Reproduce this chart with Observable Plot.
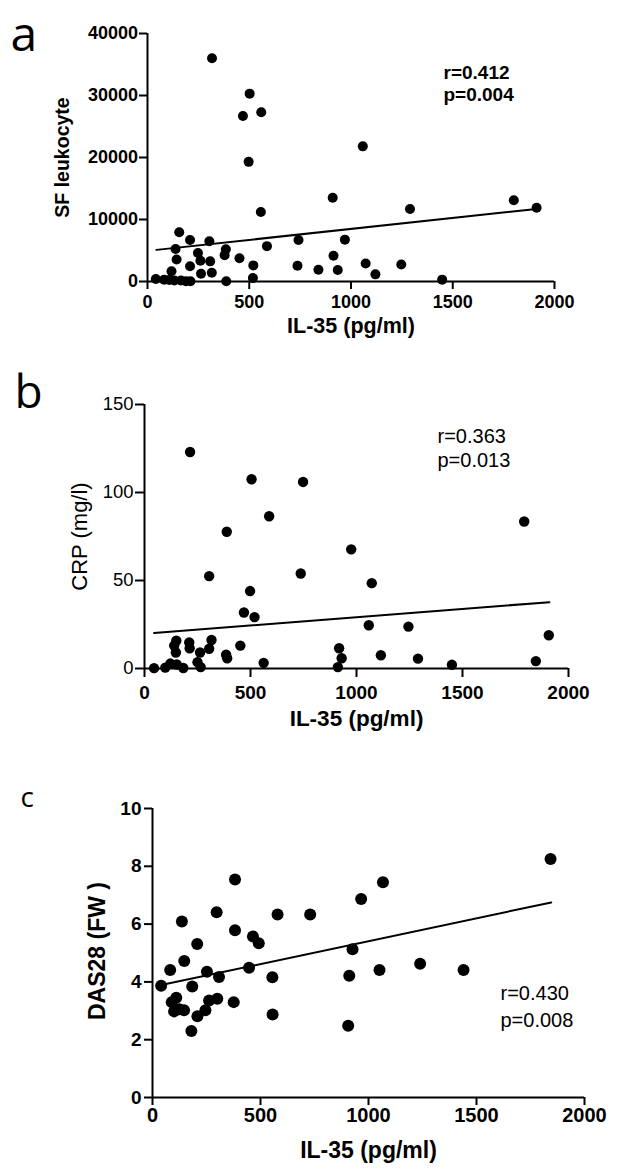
<!DOCTYPE html>
<html>
<head>
<meta charset="utf-8">
<script src="https://cdn.jsdelivr.net/npm/d3@7"></script>
<script src="https://cdn.jsdelivr.net/npm/@observablehq/plot@0.6"></script>
<style>
  html, body { margin: 0; padding: 0; background: #fff; }
  #chart svg { display: block; }
</style>
</head>
<body>
<div id="chart"></div>
<script>
// ---------- Data ----------
const xTicks = [0, 500, 1000, 1500, 2000];
const xTitle = "IL-35 (pg/ml)";

// Panel a: SF leukocyte vs IL-35
const aIL35 = [317, 502, 469, 559, 497, 1058, 910, 557, 1290, 1800, 1912, 156, 209, 304, 138, 248, 385, 379, 143, 260, 308, 452, 209, 520, 587, 742, 737, 840, 914, 935, 970, 1072, 1120, 1247, 1448, 118, 263, 316, 387, 518, 41, 82, 107, 132, 164, 189, 211];
const aLeukocyte = [36000, 30300, 26700, 27300, 19300, 21800, 13500, 11200, 11700, 13100, 11900, 7950, 6700, 6500, 5250, 4600, 5200, 4250, 3550, 3350, 3250, 3750, 2450, 2600, 5700, 6700, 2550, 1900, 4150, 1850, 6750, 2900, 1150, 2750, 300, 1650, 1250, 1400, 50, 550, 400, 300, 250, 150, 150, 50, 30];
const aFitX = [44, 1912];
const aFitY = [5100, 11700];
const aYTicks = [0, 10000, 20000, 30000, 40000];
const aStats = ["r=0.412", "p=0.004"];

// Panel b: CRP vs IL-35
const bIL35 = [215, 505, 748, 588, 388, 975, 305, 737, 1072, 498, 469, 519, 1058, 1245, 1791, 1846, 1907, 150, 140, 211, 213, 316, 148, 262, 305, 452, 385, 390, 562, 918, 930, 912, 1115, 1290, 1450, 250, 265, 45, 98, 122, 152, 183];
const bCRP = [123, 107.5, 106, 86.5, 77.7, 67.7, 52.5, 54, 48.5, 44, 31.8, 29.2, 24.6, 23.8, 83.5, 4.2, 18.9, 15.8, 13, 14.8, 11.5, 16.2, 9.1, 9.1, 11.2, 13, 7.8, 5.8, 3.2, 11.5, 5.8, 0.8, 7.5, 5.6, 2.1, 3.6, 0.8, 0.2, 0.5, 2.8, 2.3, 0.3];
const bFitX = [45, 1910];
const bFitY = [20.2, 37.7];
const bYTicks = [0, 50, 100, 150];
const bStats = ["r=0.363", "p=0.013"];

// Panel c: DAS28 vs IL-35
const cIL35 = [40, 82, 136, 147, 207, 184, 180, 252, 308, 297, 382, 382, 376, 447, 465, 492, 555, 556, 579, 730, 911, 926, 906, 966, 1067, 1051, 1239, 1440, 1843, 89, 110, 100, 124, 146, 245, 262, 300, 208];
const cDAS28 = [3.87, 4.41, 6.09, 4.72, 5.31, 3.84, 2.30, 4.35, 4.17, 6.41, 7.54, 5.79, 3.30, 4.49, 5.57, 5.34, 4.16, 2.87, 6.33, 6.33, 4.21, 5.13, 2.48, 6.87, 7.45, 4.41, 4.63, 4.41, 8.25, 3.30, 3.45, 2.98, 3.05, 3.02, 3.02, 3.36, 3.42, 2.81];
const cFitX = [40, 1846];
const cFitY = [3.89, 6.75];
const cYTicks = [0, 2, 4, 6, 8, 10];
const cStats = ["r=0.430", "p=0.008"];

// ---------- Drawing ----------
const FONT = "'Liberation Sans', Arial, Helvetica, sans-serif";
const LETTER_FONT = "'Open Sans', 'Noto Sans', sans-serif";

function panel(cfg) {
  const pts = cfg.xs.map((x, i) => ({x, y: cfg.ys[i]}));
  const fit = cfg.fitX.map((x, i) => ({x, y: cfg.fitY[i]}));
  return Plot.plot({
    width: 630,
    height: cfg.height,
    marginTop: cfg.mt, marginRight: cfg.mr, marginBottom: cfg.mb, marginLeft: cfg.ml,
    style: {fontFamily: FONT, background: "#fff", color: "#000", overflow: "visible"},
    x: {domain: [0, 2000]},
    y: {domain: cfg.yDomain},
    marks: [
      // tick marks (labels drawn separately below)
      Plot.axisX({ticks: xTicks, tickSize: cfg.xTickSize, strokeWidth: 2, tickFormat: () => "", label: null}),
      Plot.axisY({ticks: cfg.yTicks, tickSize: cfg.yTickSize, strokeWidth: 2, tickFormat: () => "", label: null}),
      // tick labels
      Plot.text(xTicks, {x: d => d, frameAnchor: "bottom", dy: cfg.xTickSize + cfg.xPad, lineAnchor: "top",
        text: d => String(d), fontSize: cfg.xFont, fontWeight: "bold", fill: "#000"}),
      Plot.text(cfg.yTicks, {y: d => d, frameAnchor: "left", dx: -(cfg.yTickSize + cfg.yPad), textAnchor: "end",
        lineAnchor: "middle", text: d => String(d), fontSize: cfg.yFont, fontWeight: cfg.yWeight, fill: "#000"}),
      // axis lines
      Plot.ruleX([0], {stroke: "#000", strokeWidth: 2}),
      Plot.ruleY([0], {stroke: "#000", strokeWidth: 2}),
      // fit line and points
      Plot.line(fit, {x: "x", y: "y", stroke: "#000", strokeWidth: 2}),
      Plot.dot(pts, {x: "x", y: "y", r: cfg.r, fill: "#000", stroke: "none"}),
      // titles
      Plot.text([xTitle], {frameAnchor: "bottom", dy: cfg.xTitleDy, lineAnchor: "middle",
        fontSize: cfg.xTitleFont, fontWeight: "bold", fill: "#000"}),
      Plot.text([cfg.yTitle], {frameAnchor: "left", dx: cfg.yTitleDx, dy: cfg.yTitleDy, rotate: -90,
        lineAnchor: "middle", textAnchor: "middle", fontSize: cfg.yTitleFont, fontWeight: cfg.yTitleWeight, fill: "#000"}),
      // statistics
      Plot.text([cfg.stats[0]], {frameAnchor: "top-left", dx: cfg.statDx, dy: cfg.statDy1, textAnchor: "start",
        lineAnchor: "top", fontSize: cfg.statFont, fontWeight: cfg.statWeight, fill: "#000"}),
      Plot.text([cfg.stats[1]], {frameAnchor: "top-left", dx: cfg.statDx, dy: cfg.statDy2, textAnchor: "start",
        lineAnchor: "top", fontSize: cfg.statFont, fontWeight: cfg.statWeight, fill: "#000"}),
      // panel letter
      Plot.text([cfg.letter], {frameAnchor: "top-left", dx: cfg.letterDx, dy: cfg.letterDy, textAnchor: "start",
        lineAnchor: "top", fontSize: cfg.letterFont, fontFamily: LETTER_FONT, fontWeight: "normal", fill: "#000"})
    ]
  });
}

const chart = document.getElementById("chart");

chart.appendChild(panel({
  xs: aIL35, ys: aLeukocyte, fitX: aFitX, fitY: aFitY, yDomain: [0, 40000], yTicks: aYTicks,
  height: 340, mt: 33, mr: 76, mb: 59, ml: 147, r: 5,
  xTickSize: 8, xPad: 6, xFont: 18, yTickSize: 8, yPad: 1.5, yFont: 18, yWeight: "bold",
  xTitleDy: 45, xTitleFont: 21.5,
  yTitle: "SF leukocyte", yTitleDx: -85, yTitleDy: 0, yTitleFont: 19.5, yTitleWeight: "bold",
  stats: aStats, statDx: 296, statDy1: 32, statDy2: 54, statFont: 19, statWeight: "bold",
  letter: "a", letterDx: -137, letterDy: -17, letterFont: 48
}));

chart.appendChild(panel({
  xs: bIL35, ys: bCRP, fitX: bFitX, fitY: bFitY, yDomain: [0, 150], yTicks: bYTicks,
  height: 420, mt: 64, mr: 62, mb: 92, ml: 144, r: 5.2,
  xTickSize: 9, xPad: 8, xFont: 19, yTickSize: 9, yPad: 2, yFont: 18.5, yWeight: "normal",
  xTitleDy: 50, xTitleFont: 22.5,
  yTitle: "CRP (mg/l)", yTitleDx: -65, yTitleDy: 0, yTitleFont: 22, yTitleWeight: "normal",
  stats: bStats, statDx: 293, statDy1: 24, statDy2: 48, statFont: 20, statWeight: "normal",
  letter: "b", letterDx: -130, letterDy: -29, letterFont: 46
}));

chart.appendChild(panel({
  xs: cIL35, ys: cDAS28, fitX: cFitX, fitY: cFitY, yDomain: [0, 10], yTicks: cYTicks,
  height: 408, mt: 48, mr: 46, mb: 71, ml: 152, r: 6,
  xTickSize: 8, xPad: 2, xFont: 20, yTickSize: 8, yPad: 3, yFont: 19, yWeight: "bold",
  xTitleDy: 53, xTitleFont: 23,
  yTitle: "DAS28 (FW )", yTitleDx: -55, yTitleDy: -2, yTitleFont: 23, yTitleWeight: "bold",
  stats: cStats, statDx: 348, statDy1: 177, statDy2: 204, statFont: 20, statWeight: "normal",
  letter: "c", letterDx: -132, letterDy: -21, letterFont: 28
}));
</script>
</body>
</html>
